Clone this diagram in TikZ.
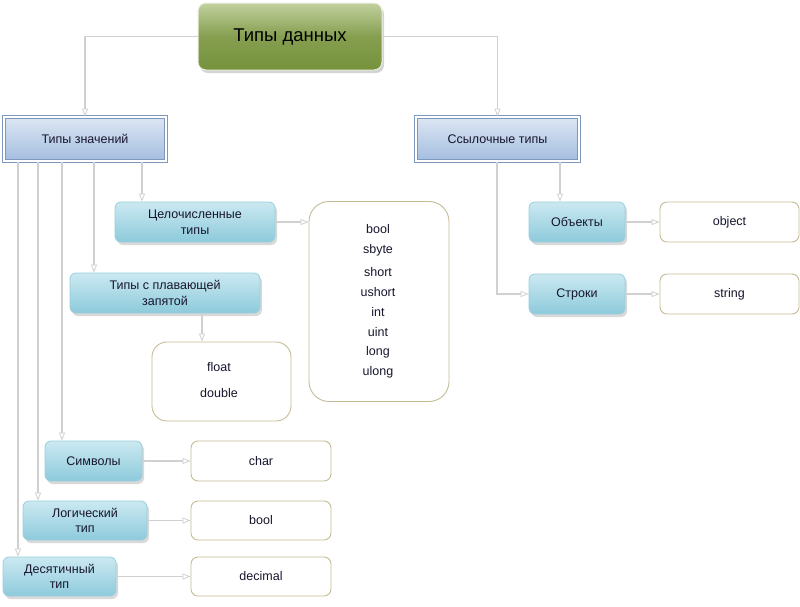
\documentclass[tikz,border=0pt]{standalone}
\usepackage{fontspec}
\setmainfont{Liberation Sans}
\usetikzlibrary{arrows.meta,shadows}
\definecolor{titletop}{HTML}{C2D19E}
\definecolor{titlebot}{HTML}{76923C}
\definecolor{bluetop}{HTML}{DDE7F3}
\definecolor{bluebot}{HTML}{A3BCDF}
\definecolor{blueline}{HTML}{7D97BD}
\definecolor{tealtop}{HTML}{CBE9F1}
\definecolor{tealbot}{HTML}{8DCADB}
\definecolor{tealline}{HTML}{9ACEDC}
\definecolor{tanline}{HTML}{C4BC96}
\definecolor{connline}{HTML}{D0D0D0}
\definecolor{txt}{HTML}{16162E}
\tikzset{
  titlebox/.style={rounded corners=8pt, top color=titletop, bottom color=titlebot,
    middle color=titlebot!80!titletop, draw=white!85!titlebot, line width=1pt,
    drop shadow={shadow xshift=2pt, shadow yshift=-3pt, opacity=0.35},
    font=\fontsize{18.5}{20}\selectfont, text=black, inner sep=0pt},
  bluebox/.style={draw=blueline, double=white, double distance=1.6pt, line width=0.9pt,
    top color=bluetop, bottom color=bluebot, font=\fontsize{12.5}{14}\selectfont,
    text=txt, inner sep=0pt},
  tealbox/.style={rounded corners=6pt, draw=tealline, line width=0.8pt,
    top color=tealtop, bottom color=tealbot,
    drop shadow={shadow xshift=2pt, shadow yshift=-3pt, opacity=0.3},
    font=\fontsize{12.5}{15.5}\selectfont, text=txt, align=center, inner sep=0pt},
  valbox/.style={rounded corners=7pt, draw=tanline, line width=0.9pt, fill=white,
    font=\fontsize{12.5}{14}\selectfont, text=txt, inner sep=0pt},
  vtext/.style={font=\fontsize{12.5}{14}\selectfont, text=txt, inner sep=0pt},
  conn/.style={draw=connline, line width=1.4pt,
    -{Triangle[open, length=8pt, width=6pt, line width=0.8pt]}},
}
\begin{document}
\begin{tikzpicture}[x=1pt,y=-1pt]
\useasboundingbox (0,0) rectangle (800,606);
% top
\node[titlebox, minimum width=184pt, minimum height=67pt] (title) at (290,36.5) {Типы данных};
\node[bluebox, minimum width=162pt, minimum height=44pt] (tz) at (85,139) {Типы значений};
\node[bluebox, minimum width=163pt, minimum height=44pt] (ssyl) at (497.5,139) {Ссылочные типы};
% value type categories
\node[tealbox, minimum width=160pt, minimum height=40pt] (cel) at (195,222) {Целочисленные\\типы};
\node[tealbox, minimum width=190pt, minimum height=40pt] (plav) at (165,293) {Типы с плавающей\\запятой};
\node[tealbox, minimum width=97pt, minimum height=40pt] (sym) at (93.5,461) {Символы};
\node[tealbox, minimum width=124pt, minimum height=39pt] (log) at (85,520.5) {Логический\\тип};
\node[tealbox, minimum width=113pt, minimum height=39pt] (dec) at (59.5,576.5) {Десятичный\\тип};
% reference type categories
\node[tealbox, minimum width=96pt, minimum height=40pt] (obj) at (577,222) {Объекты};
\node[tealbox, minimum width=96pt, minimum height=40pt] (str) at (577,294) {Строки};
% value boxes
\node[valbox, rounded corners=20pt, minimum width=140pt, minimum height=200pt] (intbox) at (379,301.5) {};
\node[vtext] (i1) at (378,229) {bool};
\node[vtext] (i2) at (378,250) {sbyte};
\node[vtext] (i3) at (378,272) {short};
\node[vtext] (i4) at (378,292) {ushort};
\node[vtext] (i5) at (378,312) {int};
\node[vtext] (i6) at (378,332) {uint};
\node[vtext] (i7) at (378,352) {long};
\node[vtext] (i8) at (378,372) {ulong};
\node[valbox, rounded corners=15pt, minimum width=139pt, minimum height=79pt] (floatbox) at (221.5,381.5) {};
\node[vtext] (floatt) at (219,367) {float};
\node[vtext] (doublet) at (219,393) {double};
\node[valbox, minimum width=140pt, minimum height=40pt] (charbox) at (261,461) {char};
\node[valbox, minimum width=140pt, minimum height=39pt] (boolbox) at (261,520.5) {bool};
\node[valbox, minimum width=140pt, minimum height=39pt] (decbox) at (261,576.5) {decimal};
\node[valbox, minimum width=139pt, minimum height=40pt] (objbox) at (729.5,222) {object};
\node[valbox, minimum width=139pt, minimum height=40pt] (strbox) at (729.5,294) {string};
% connector start points
\coordinate (a1) at (142,162);
\coordinate (a2) at (94,162);
\coordinate (a3) at (62,162);
\coordinate (a4) at (38,162);
\coordinate (a5) at (18,162);
\coordinate (p1) at (202,313);
\coordinate (r1) at (560,162);
\coordinate (r2) at (497,162);
% connectors
\draw[conn] (title.west) -| (tz.north);
\draw[conn] (title.east) -| (ssyl.north);
\draw[conn] (a1) -- (a1 |- cel.north);
\draw[conn] (a2) -- (a2 |- plav.north);
\draw[conn] (a3) -- (a3 |- sym.north);
\draw[conn] (a4) -- (a4 |- log.north);
\draw[conn] (a5) -- (a5 |- dec.north);
\draw[conn] (cel.east) -- (cel.east -| intbox.west);
\draw[conn] (p1) -- (p1 |- floatbox.north);
\draw[conn] (sym.east) -- (charbox.west);
\draw[conn] (log.east) -- (boolbox.west);
\draw[conn] (dec.east) -- (decbox.west);
\draw[conn] (r1) -- (r1 |- obj.north);
\draw[conn] (r2) |- (str.west);
\draw[conn] (obj.east) -- (objbox.west);
\draw[conn] (str.east) -- (strbox.west);
\end{tikzpicture}
\end{document}
